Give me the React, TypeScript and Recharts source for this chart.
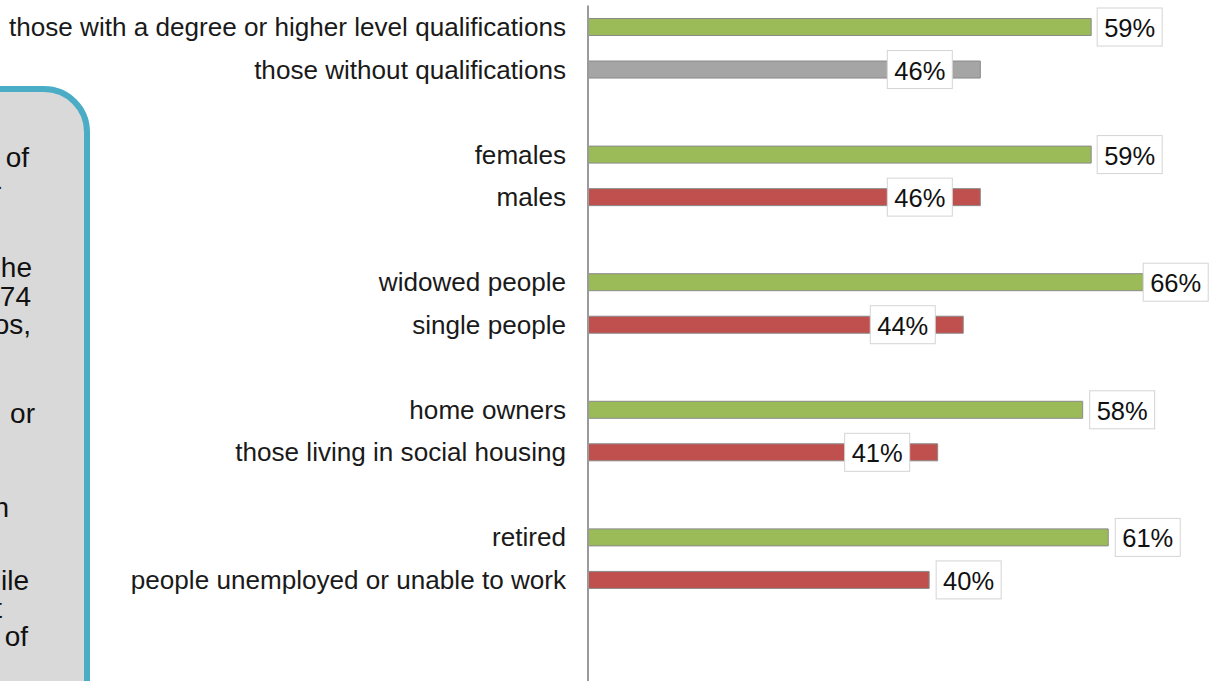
import { BarChart, Bar, XAxis, YAxis, Cell, LabelList } from "recharts";

const CATEGORIES = [
  "those with a degree or higher level qualifications",
  "those without qualifications",
  "females",
  "males",
  "widowed people",
  "single people",
  "home owners",
  "those living in social housing",
  "retired",
  "people unemployed or unable to work",
];

const VALUES = [59, 46, 59, 46, 65.1, 44, 58, 41, 61, 40];

const VALUE_LABELS = ["59%", "46%", "59%", "46%", "66%", "44%", "58%", "41%", "61%", "40%"];

// which side of each pair the bar belongs to: "pos" = green, "neg" = red, "none" = gray
const KINDS = ["pos", "none", "pos", "neg", "pos", "neg", "pos", "neg", "pos", "neg"];

// panel text fragments visible at the left edge (cut off in the original)
const PANEL_LINES = [
  { text: "of", x: 29, y: 167 },
  { text: "-", x: 2, y: 195 },
  { text: "he", x: 32, y: 277 },
  { text: "74", x: 31, y: 306 },
  { text: "os,", x: 31, y: 334 },
  { text: "or", x: 35, y: 423 },
  { text: "n", x: 9, y: 517 },
  { text: "ile", x: 29, y: 590 },
  { text: "t", x: 2, y: 618 },
  { text: "of", x: 28, y: 646 },
];

const COLORS: Record<string, string> = {
  pos: "#9bbb59",
  neg: "#c0504d",
  none: "#a5a5a5",
};

// label box offset from the bar end (negative = sits inside the bar)
const LABEL_DX = [6, -93, 6, -93, 0, -93, 7, -93, 7, 7];

type Row = { key: string; idx: number; value: number | null };

const rows: Row[] = [];
CATEGORIES.forEach((_, i) => {
  rows.push({ key: `r${i}`, idx: i, value: VALUES[i] });
  if (i % 2 === 1) rows.push({ key: `gap${i}`, idx: -1, value: null });
});
rows.push({ key: "gapEnd", idx: -1, value: null });

const FONT = "'Liberation Sans', Arial, sans-serif";

const tickName = (key: string) => {
  const r = rows.find((d) => d.key === key);
  return r && r.idx >= 0 ? CATEGORIES[r.idx] : "";
};

const renderLabel = (props: any) => {
  const { x, y, width, height, value } = props;
  const r = rows.find((d) => d.key === value);
  if (!r || r.idx < 0) return null;
  const end = Number(x) + Number(width);
  const cy = Number(y) + Number(height) / 2;
  const bx = end + LABEL_DX[r.idx];
  return (
    <g>
      <rect x={bx} y={cy - 19} width={65} height={38} fill="#fff" stroke="#d4d4d4" strokeWidth={1} />
      <text
        x={bx + 32.5}
        y={cy + 1}
        textAnchor="middle"
        dominantBaseline="central"
        fontSize={25.5}
        fontFamily={FONT}
        fill="#111"
      >
        {VALUE_LABELS[r.idx]}
      </text>
    </g>
  );
};

export default function App() {
  return (
    <div
      style={{
        position: "fixed",
        left: 0,
        top: 0,
        width: 1216,
        height: 681,
        overflow: "hidden",
        background: "#fff",
        fontFamily: FONT,
      }}
    >
      {/* side panel, mostly off screen */}
      <div
        style={{
          position: "absolute",
          left: -300,
          top: 86,
          width: 378,
          height: 700,
          background: "#d9d9d9",
          border: "6px solid #4bacc6",
          borderRadius: 46,
        }}
      />
      <svg width={100} height={681} style={{ position: "absolute", left: 0, top: 0 }}>
        {PANEL_LINES.map((l, i) => (
          <text key={i} x={l.x} y={l.y} textAnchor="end" fontSize={28} fontFamily={FONT} fill="#111">
            {l.text}
          </text>
        ))}
      </svg>

      <div style={{ position: "absolute", left: 0, top: 0 }}>
        <BarChart
          width={1216}
          height={686}
          layout="vertical"
          data={rows}
          margin={{ top: 5.5, right: 31, left: 0, bottom: 0 }}
          barSize={17}
        >
          <XAxis type="number" domain={[0, 70]} hide />
          <YAxis
            type="category"
            dataKey="key"
            width={588}
            interval={0}
            tickLine={false}
            tickSize={0}
            tickMargin={22}
            tickFormatter={tickName}
            axisLine={{ stroke: "#9a9a9a", strokeWidth: 2 }}
            tick={{ fontSize: 26.1, fill: "#1a1a1a", fontFamily: FONT }}
          />
          <Bar dataKey="value" stroke="#8a8a8a" strokeWidth={1} isAnimationActive={false}>
            {rows.map((r) => (
              <Cell key={r.key} fill={r.idx >= 0 ? COLORS[KINDS[r.idx]] : "transparent"} />
            ))}
            <LabelList dataKey="key" content={renderLabel} />
          </Bar>
        </BarChart>
      </div>
    </div>
  );
}
